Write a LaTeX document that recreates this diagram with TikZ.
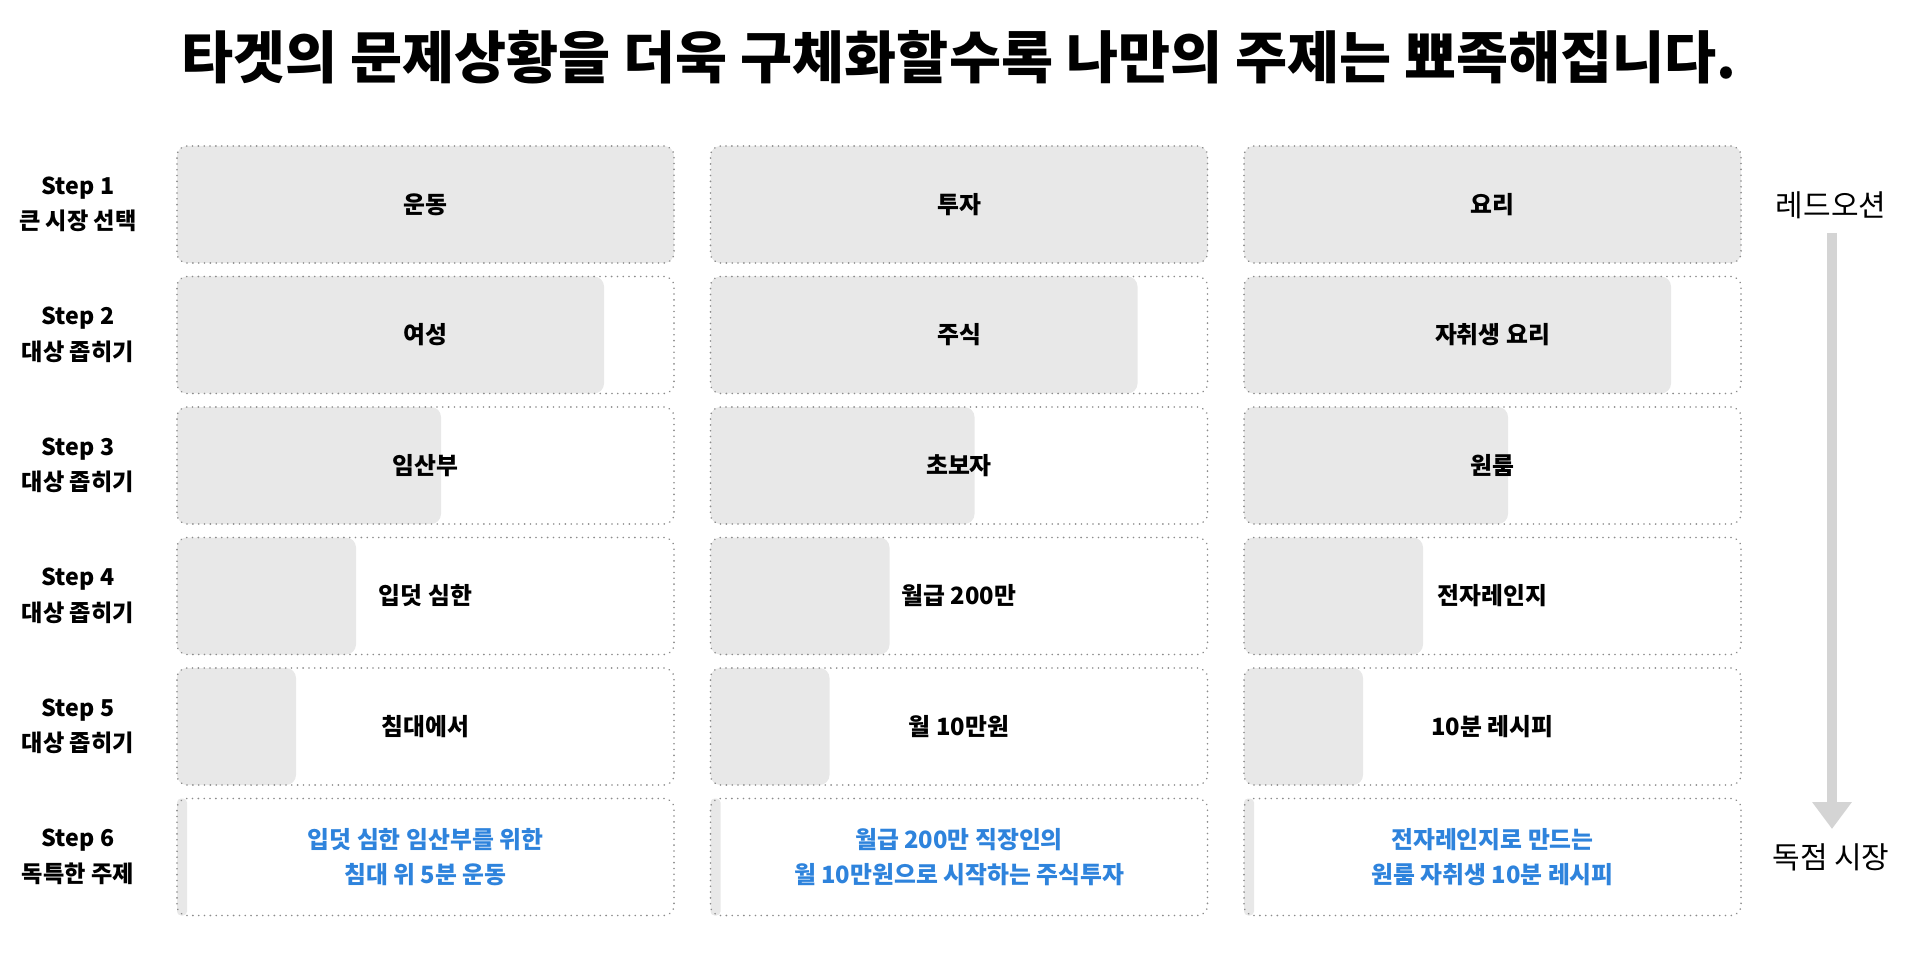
\documentclass[tikz,border=0pt]{standalone}
\usepackage{fontspec}
\setmainfont{Noto Sans CJK KR}
\usepackage{tikz}
\definecolor{barfill}{HTML}{E8E8E8}
\definecolor{dotgray}{HTML}{8C8C8C}
\definecolor{focusblue}{HTML}{2E83DC}
\definecolor{arrowgray}{HTML}{D4D4D4}
\usetikzlibrary{positioning, arrows.meta, backgrounds}
\tikzstyle{stepbox} = [draw=dotgray, line width=0.9pt, dash pattern=on 0.01pt off 2.9pt,
    line cap=round, rounded corners=5pt, minimum width=248.5pt, minimum height=58.5pt,
    outer sep=0pt, align=center, font=\fontsize{11.9pt}{17.75pt}\selectfont\bfseries]
\tikzstyle{bar} = [fill=barfill, rounded corners=5pt, minimum height=58.5pt,
    anchor=west, inner sep=0pt, outer sep=0pt]
\tikzstyle{steplabel} = [align=center, font=\fontsize{11.6pt}{17.75pt}\selectfont\bfseries]
\tikzstyle{sidelabel} = [font=\fontsize{15pt}{17pt}\selectfont]
\tikzstyle{result} = [stepbox, text=focusblue]

\begin{document}
\begin{tikzpicture}[x=0.5pt, y=-0.5pt]
    \useasboundingbox (0,0) rectangle (1918,957);

    % Title
    \node [font=\fontsize{28.3pt}{32pt}\selectfont\bfseries] (title) at (959,57.5)
        {타겟의 문제상황을 더욱 구체화할수록 나만의 주제는 뾰족해집니다.};

    % Step labels
    \node [steplabel] (step1) at (78,204.5) {Step 1\\큰 시장 선택};
    \node [steplabel] (step2) at (78,335) {Step 2\\대상 좁히기};
    \node [steplabel] (step3) at (78,465.5) {Step 3\\대상 좁히기};
    \node [steplabel] (step4) at (78,596) {Step 4\\대상 좁히기};
    \node [steplabel] (step5) at (78,726.5) {Step 5\\대상 좁히기};
    \node [steplabel] (step6) at (78,857) {Step 6\\독특한 주제};

    % Column 1
    \node [stepbox] (run1) at (425.5,204.5) {운동};
    \node [stepbox] (run2) at (425.5,335) {여성};
    \node [stepbox] (run3) at (425.5,465.5) {임산부};
    \node [stepbox] (run4) at (425.5,596) {입덧 심한};
    \node [stepbox] (run5) at (425.5,726.5) {침대에서};
    \node [result] (run6) at (425.5,857) {입덧 심한 임산부를 위한\\침대 위 5분 운동};

    % Column 2
    \node [stepbox] (stock1) at (959,204.5) {투자};
    \node [stepbox] (stock2) at (959,335) {주식};
    \node [stepbox] (stock3) at (959,465.5) {초보자};
    \node [stepbox] (stock4) at (959,596) {월급 200만};
    \node [stepbox] (stock5) at (959,726.5) {월 10만원};
    \node [result] (stock6) at (959,857) {월급 200만 직장인의\\월 10만원으로 시작하는 주식투자};

    % Column 3
    \node [stepbox] (cook1) at (1492.5,204.5) {요리};
    \node [stepbox] (cook2) at (1492.5,335) {자취생 요리};
    \node [stepbox] (cook3) at (1492.5,465.5) {원룸};
    \node [stepbox] (cook4) at (1492.5,596) {전자레인지};
    \node [stepbox] (cook5) at (1492.5,726.5) {10분 레시피};
    \node [result] (cook6) at (1492.5,857) {전자레인지로 만드는\\원룸 자취생 10분 레시피};

    % Grey bars behind the boxes
    \begin{scope}[on background layer]
        \node [bar, minimum width=248.5pt] (runbar1) at (run1.west) {};
        \node [bar, minimum width=213.5pt] (runbar2) at (run2.west) {};
        \node [bar, minimum width=132pt] (runbar3) at (run3.west) {};
        \node [bar, minimum width=89.5pt] (runbar4) at (run4.west) {};
        \node [bar, minimum width=59.5pt] (runbar5) at (run5.west) {};
        \node [bar, minimum width=5pt, rounded corners=2pt] (runbar6) at (run6.west) {};

        \node [bar, minimum width=248.5pt] (stockbar1) at (stock1.west) {};
        \node [bar, minimum width=213.5pt] (stockbar2) at (stock2.west) {};
        \node [bar, minimum width=132pt] (stockbar3) at (stock3.west) {};
        \node [bar, minimum width=89.5pt] (stockbar4) at (stock4.west) {};
        \node [bar, minimum width=59.5pt] (stockbar5) at (stock5.west) {};
        \node [bar, minimum width=5pt, rounded corners=2pt] (stockbar6) at (stock6.west) {};

        \node [bar, minimum width=248.5pt] (cookbar1) at (cook1.west) {};
        \node [bar, minimum width=213.5pt] (cookbar2) at (cook2.west) {};
        \node [bar, minimum width=132pt] (cookbar3) at (cook3.west) {};
        \node [bar, minimum width=89.5pt] (cookbar4) at (cook4.west) {};
        \node [bar, minimum width=59.5pt] (cookbar5) at (cook5.west) {};
        \node [bar, minimum width=5pt, rounded corners=2pt] (cookbar6) at (cook6.west) {};
    \end{scope}

    % Red ocean to monopoly
    \node [sidelabel] (redocean) at (1831,205) {레드오션};
    \node [sidelabel] (monopoly) at (1831,857) {독점 시장};
    \coordinate (arrowtop) at (1832,233);
    \coordinate (arrowtip) at (1832,829);
    \draw [arrowgray, line width=5pt, -{Triangle[width=19pt, length=13.5pt]}]
        (arrowtop) -- (arrowtip);
\end{tikzpicture}
\end{document}
